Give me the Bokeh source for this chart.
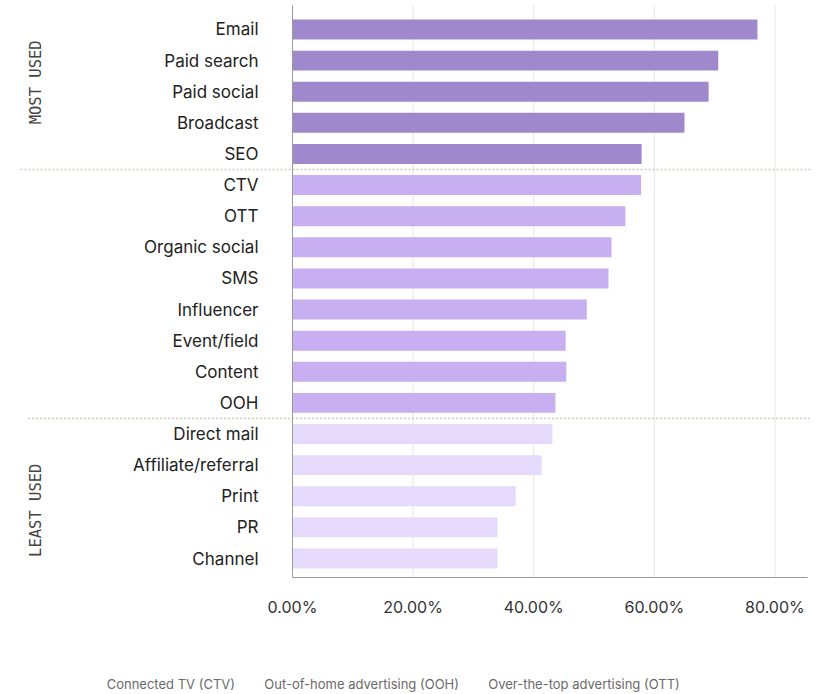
from bokeh.plotting import figure
from bokeh.models import (ColumnDataSource, Range1d, FixedTicker, PrintfTickFormatter, Label)
from bokeh.core.properties import value
from bokeh.embed import file_html
from bokeh.resources import INLINE
import math

# ---- data ----
most_used = ["Email", "Paid search", "Paid social", "Broadcast", "SEO"]
most_vals = [77.1, 70.6, 69.0, 65.0, 57.9]
mid_used = ["CTV", "OTT", "Organic social", "SMS", "Influencer", "Event/field", "Content", "OOH"]
mid_vals = [57.8, 55.2, 52.9, 52.4, 48.8, 45.3, 45.4, 43.6]
least_used = ["Direct mail", "Affiliate/referral", "Print", "PR", "Channel"]
least_vals = [43.1, 41.3, 37.0, 34.0, 34.0]
group_colors = ["#A088CC", "#C8AFF1", "#E5DAFB"]
x_ticks = [0, 20, 40, 60, 80]
footnotes = ["Connected TV (CTV)", "Out-of-home advertising (OOH)", "Over-the-top advertising (OTT)"]
group_names = ["MOST USED", "LEAST USED"]

categories = most_used + mid_used + least_used
values = most_vals + mid_vals + least_vals
colors = ([group_colors[0]] * len(most_used) + [group_colors[1]] * len(mid_used)
          + [group_colors[2]] * len(least_used))
ypos = list(range(len(categories)))

# ---- layout (plot-area extents in data units) ----
X_MAX = 85.4          # right end of the value axis
Y_TOP = -0.77         # top of the value area
Y_BOT = 17.61         # bottom of the value area (axis line)
PX_X = 515 / X_MAX    # pixels per x unit
PX_Y = 572 / (Y_BOT - Y_TOP)

x_lo = -292 / PX_X
x_hi = X_MAX + 11 / PX_X
y_lo = Y_TOP - 5 / PX_Y
y_hi = Y_BOT + 1 / PX_Y

src = ColumnDataSource(dict(y=ypos, v=values, c=colors, cat=categories,
                            zero=[0] * len(ypos)))

p = figure(width=818, height=694, output_backend="svg", toolbar_location=None,
           x_range=Range1d(x_lo, x_hi), y_range=Range1d(y_hi, y_lo),
           min_border_left=0, min_border_right=0, min_border_top=0, min_border_bottom=116)
p.outline_line_color = None
p.background_fill_color = "white"
p.border_fill_color = "white"
p.yaxis.visible = False
p.xgrid.grid_line_color = None
p.ygrid.grid_line_color = None

# grid lines
gx = [t for t in x_ticks if t != 0]
p.segment(x0=gx, x1=gx, y0=[Y_TOP] * len(gx), y1=[Y_BOT] * len(gx),
          line_color="#e6e6e6", line_width=1)

# bars
p.hbar(y="y", right="v", left=0, height=0.64, fill_color="c", line_color=None, source=src)

# category labels (value-axis side)
p.text(x="zero", y="y", text="cat", source=src, x_offset=-34, text_align="right",
       text_baseline="middle", text_font=value("Inter"), text_font_size="17px",
       text_color="#222222")

# group separators
b1 = len(most_used) - 0.5
b2 = len(most_used) + len(mid_used) - 0.5
p.segment(x0=[-45.1, -43.9], x1=[85.9, 85.9], y0=[b1, b2], y1=[b1, b2],
          line_color="#cfcab8", line_width=1.5, line_dash="2 2")

# axis lines
p.segment(x0=[0, 0], x1=[0, X_MAX], y0=[Y_TOP, Y_BOT], y1=[Y_BOT, Y_BOT],
          line_color="#9a9a9a", line_width=1)

# x axis ticks/labels
ax = p.xaxis[0]
ax.ticker = FixedTicker(ticks=x_ticks)
ax.formatter = PrintfTickFormatter(format="%.2f%%")
ax.major_label_text_font = "Inter"
ax.major_label_text_font_size = "16px"
ax.major_label_text_color = "#333333"
ax.major_label_standoff = 12
ax.major_tick_line_color = None
ax.minor_tick_line_color = None
ax.axis_line_color = None

# footnotes as the axis label (shifted left with trailing spacing)
gap = "\u2003\u2003\u2005"
ax.axis_label = gap.join(footnotes) + "\u2003\u2003\u2002"
ax.axis_label_standoff = 56
ax.axis_label_text_font = "Inter"
ax.axis_label_text_font_size = "13px"
ax.axis_label_text_font_style = "normal"
ax.axis_label_text_color = "#6a6a6a"

# group labels
for name, yc in zip(group_names, [1.7, 15.45]):
    p.add_layout(Label(x=35, y=yc, x_units="screen", y_units="data", text=name,
                       angle=math.pi / 2, text_align="center", text_baseline="middle",
                       text_font="DejaVu Sans Mono", text_font_size="15.5px",
                       text_color="#444444"))

open("out.html", "w").write(file_html(p, INLINE))
